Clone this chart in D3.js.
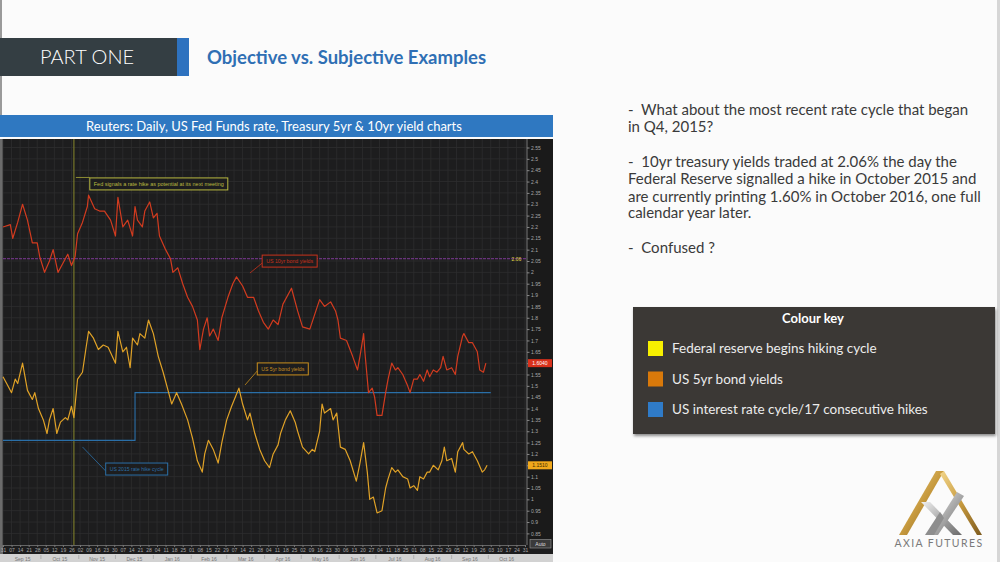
<!DOCTYPE html>
<html><head><meta charset="utf-8">
<script src="https://cdn.jsdelivr.net/npm/d3@7"></script>
<style>
html,body{margin:0;padding:0;background:#fafafa;overflow:hidden;}
svg{display:block;}
</style></head><body>
<svg id="c" width="1000" height="562"></svg>
<script>
// ---------------- DATA ----------------
const START = "2015-08-31";           // day 0 for the series below
// US 10yr Treasury yield: [days after START, yield %]
const tenYear = [
[0,2.20],[6,2.21],[8,2.15],[12,2.22],[16,2.30],[20,2.23],[24,2.13],[28,2.13],[30,2.07],[34,2.00],[38,2.05],[41,2.10],[45,2.00],[49,2.04],[53,2.08],[56,2.03],[59,2.07],[61,2.17],[65,2.22],[69,2.29],[70,2.34],[75,2.28],[79,2.27],[83,2.27],[88,2.23],[92,2.16],[94,2.33],[98,2.20],[102,2.23],[106,2.16],[108,2.29],[110,2.23],[114,2.20],[116,2.27],[120,2.31],[123,2.24],[126,2.26],[128,2.16],[133,2.10],[137,2.06],[139,2.00],[143,2.02],[147,1.95],[151,1.89],[155,1.85],[159,1.79],[161,1.66],[164,1.75],[167,1.80],[169,1.72],[172,1.75],[176,1.70],[179,1.80],[184,1.89],[188,1.95],[191,1.98],[196,1.94],[200,1.89],[205,1.89],[209,1.83],[213,1.78],[217,1.75],[221,1.79],[225,1.77],[229,1.86],[236,1.93],[241,1.83],[245,1.76],[251,1.75],[259,1.88],[263,1.85],[268,1.87],[272,1.83],[274,1.79],[276,1.71],[281,1.70],[286,1.63],[290,1.57],[292,1.63],[295,1.73],[296,1.65],[299,1.47],[302,1.49],[304,1.45],[306,1.37],[310,1.37],[313,1.47],[315,1.53],[318,1.60],[321,1.57],[323,1.58],[327,1.55],[331,1.50],[333,1.47],[336,1.53],[339,1.53],[341,1.55],[344,1.52],[347,1.57],[349,1.54],[352,1.57],[355,1.56],[358,1.58],[360,1.63],[363,1.57],[367,1.58],[370,1.55],[372,1.63],[376,1.72],[377,1.73],[381,1.69],[384,1.69],[388,1.65],[390,1.57],[393,1.56],[395,1.60]
];
// US 5yr Treasury yield: [days after START, yield %]
const fiveYear = [
[0,1.54],[3,1.51],[7,1.47],[10,1.53],[12,1.51],[16,1.60],[20,1.48],[24,1.44],[26,1.47],[29,1.40],[33,1.35],[36,1.29],[38,1.35],[41,1.40],[44,1.29],[47,1.34],[51,1.36],[53,1.35],[56,1.41],[58,1.36],[61,1.53],[65,1.56],[68,1.67],[70,1.74],[74,1.71],[78,1.66],[82,1.68],[86,1.67],[92,1.60],[94,1.74],[98,1.65],[101,1.67],[104,1.58],[106,1.71],[110,1.68],[112,1.73],[116,1.71],[119,1.79],[123,1.73],[127,1.63],[131,1.56],[135,1.48],[138,1.42],[142,1.47],[146,1.42],[151,1.35],[155,1.27],[159,1.17],[163,1.12],[165,1.20],[168,1.26],[172,1.22],[176,1.16],[179,1.25],[183,1.35],[187,1.41],[190,1.45],[193,1.49],[196,1.42],[200,1.35],[202,1.38],[206,1.29],[210,1.22],[214,1.17],[218,1.14],[221,1.20],[225,1.24],[227,1.29],[231,1.35],[235,1.39],[239,1.34],[241,1.30],[245,1.23],[250,1.20],[253,1.22],[255,1.21],[259,1.30],[261,1.42],[263,1.38],[268,1.40],[270,1.35],[273,1.38],[276,1.23],[280,1.22],[284,1.17],[289,1.08],[292,1.16],[295,1.25],[298,1.12],[300,1.00],[303,1.01],[306,0.94],[310,0.95],[313,1.05],[315,1.09],[318,1.14],[321,1.12],[323,1.13],[327,1.10],[331,1.09],[333,1.05],[336,1.06],[339,1.04],[341,1.10],[344,1.09],[347,1.12],[349,1.12],[352,1.15],[356,1.13],[359,1.17],[361,1.23],[363,1.17],[367,1.18],[370,1.12],[372,1.21],[376,1.25],[377,1.22],[381,1.20],[384,1.21],[388,1.17],[392,1.12],[394,1.13],[396,1.15]
];
// Fed funds step line (plotted on the chart's own scale)
const fedDates = ["2015-08-31","2015-12-17","2016-10-03"];
const fedRate  = [1.26, 1.47, 1.47];
const fedSignalDate = "2015-10-28";
const refLevel = 2.06;
const refLabel = "2.06";
const lastTen = "1.6040", lastFive = "1.1510";
const xDomain = ["2015-08-31","2016-10-31"];
const yTicks = [2.55,2.5,2.45,2.4,2.35,2.3,2.25,2.2,2.15,2.1,2.05,2,1.95,1.9,1.85,1.8,1.75,1.7,1.65,1.6,1.55,1.5,1.45,1.4,1.35,1.3,1.25,1.2,1.15,1.1,1.05,1,0.95,0.9,0.85];
const monthLabels = ["Sep 15","Oct 15","Nov 15","Dec 15","Jan 16","Feb 16","Mar 16","Apr 16","May 16","Jun 16","Jul 16","Aug 16","Sep 16","Oct 16"];
const monthStarts = ["2015-09-01","2015-10-01","2015-11-01","2015-12-01","2016-01-01","2016-02-01","2016-03-01","2016-04-01","2016-05-01","2016-06-01","2016-07-01","2016-08-01","2016-09-01","2016-10-01","2016-11-01"];
const bulletLines = [
 "-\u00a0\u00a0What about the most recent rate cycle that began",
 "in Q4, 2015?",
 "-\u00a0\u00a010yr treasury yields traded at 2.06% the day the",
 "Federal Reserve signalled a hike in October 2015 and",
 "are currently printing 1.60% in October 2016, one full",
 "calendar year later.",
 "-\u00a0\u00a0Confused ?"
];
const keyItems = [
 {label:"Federal reserve begins hiking cycle", color:"#f7f000"},
 {label:"US 5yr bond yields", color:"#d9790a"},
 {label:"US interest rate cycle/17 consecutive hikes", color:"#2f7bc8"}
];

// ---------------- DRAW ----------------
const svg = d3.select("#c");
const parse = d3.utcParse("%Y-%m-%d");
const t0 = parse(START);
const day = d => d3.utcDay.offset(t0, d);

const defs = svg.append("defs");
const gold = defs.append("linearGradient").attr("id","gold").attr("x1","0").attr("y1","0").attr("x2","1").attr("y2","1");
gold.append("stop").attr("offset","0").attr("stop-color","#f2d58a");
gold.append("stop").attr("offset","0.5").attr("stop-color","#c79a3e");
gold.append("stop").attr("offset","1").attr("stop-color","#7d5a1e");
const silver = defs.append("linearGradient").attr("id","silver").attr("x1","0").attr("y1","0").attr("x2","1").attr("y2","1");
silver.append("stop").attr("offset","0").attr("stop-color","#f0f0f0");
silver.append("stop").attr("offset","0.5").attr("stop-color","#a9a9a9");
silver.append("stop").attr("offset","1").attr("stop-color","#6a6a6a");
const sh = defs.append("filter").attr("id","sh").attr("x","-5%").attr("y","-5%").attr("width","110%").attr("height","120%");
sh.append("feDropShadow").attr("dx",1).attr("dy",2).attr("stdDeviation",1.5).attr("flood-color","#000").attr("flood-opacity",0.45);
defs.append("clipPath").attr("id","plotclip").append("rect").attr("x",2).attr("y",139).attr("width",525).attr("height",406);

// page background
svg.append("rect").attr("width",1000).attr("height",562).attr("fill","#fbfbfb");
svg.append("rect").attr("x",0).attr("y",0).attr("width",2).attr("height",115).attr("fill","#9a9a9a");
svg.append("rect").attr("x",997).attr("y",0).attr("width",3).attr("height",562).attr("fill","#d6d6d6");

// header
svg.append("rect").attr("x",0).attr("y",38).attr("width",177).attr("height",38).attr("fill","#343e43");
svg.append("rect").attr("x",177).attr("y",38).attr("width",12).attr("height",38).attr("fill","#2e72bf");
svg.append("text").attr("x",87).attr("y",64).attr("text-anchor","middle")
  .attr("font-family","Lato, 'Open Sans', sans-serif").attr("font-weight",300).attr("font-size",20)
  .attr("fill","#ffffff").text("PART ONE");
svg.append("text").attr("x",207).attr("y",64)
  .attr("font-family","Lato, 'Open Sans', sans-serif").attr("font-weight",700).attr("font-size",18.5)
  .attr("fill","#2f6fb4").text("Objective vs. Subjective Examples");

// chart title bar
svg.append("rect").attr("x",0).attr("y",115).attr("width",553).attr("height",22).attr("fill","#2f78c1");
svg.append("text").attr("x",274).attr("y",131).attr("text-anchor","middle")
  .attr("font-family","Lato, 'Open Sans', sans-serif").attr("font-size",13).attr("fill","#ffffff")
  .text("Reuters: Daily, US Fed Funds rate, Treasury 5yr & 10yr yield charts");

// chart panel
svg.append("rect").attr("x",0).attr("y",139).attr("width",553).attr("height",423).attr("fill","#1d1d1e");
svg.append("rect").attr("x",0).attr("y",139).attr("width",3).attr("height",423).attr("fill","#6b6b6b");
svg.append("rect").attr("x",527).attr("y",139).attr("width",26).attr("height",406).attr("fill","#1a1a1a");
svg.append("rect").attr("x",0).attr("y",554).attr("width",553).attr("height",8).attr("fill","#d2d2d2");

const x = d3.scaleUtc().domain(xDomain.map(parse)).range([3,525]);
const y = d3.scaleLinear().domain([0.85,2.55]).range([533.4,147.5]);

// grid
const grid = svg.append("g");
const mondays = d3.utcMonday.range(parse(xDomain[0]), d3.utcDay.offset(parse(xDomain[1]),1));
grid.selectAll(".vg").data(mondays).join("line")
  .attr("x1",d=>x(d)).attr("x2",d=>x(d)).attr("y1",139).attr("y2",545)
  .attr("stroke","#2d2d2f").attr("stroke-width",0.8);
grid.selectAll(".hg").data(yTicks).join("line")
  .attr("x1",3).attr("x2",527).attr("y1",d=>y(d)).attr("y2",d=>y(d))
  .attr("stroke","#2d2d2f").attr("stroke-width",0.8);

const plot = svg.append("g").attr("clip-path","url(#plotclip)");

// reference level line
plot.append("line").attr("x1",3).attr("x2",527).attr("y1",y(refLevel)).attr("y2",y(refLevel))
  .attr("stroke","#7e3a96").attr("stroke-width",1).attr("stroke-dasharray","3,1");
plot.append("text").attr("x",x(parse("2016-10-20"))).attr("y",y(refLevel)+1.8)
  .attr("font-family","Liberation Sans, sans-serif").attr("font-size",5).attr("fill","#e0d840")
  .text(refLabel);

// fed signal vertical
plot.append("line").attr("x1",x(parse(fedSignalDate))).attr("x2",x(parse(fedSignalDate)))
  .attr("y1",139).attr("y2",545).attr("stroke","#7d7d2a").attr("stroke-width",1.1);

// fed funds step
const fedData = fedDates.map((d,i)=>[parse(d),fedRate[i]]);
plot.append("path").datum(fedData)
  .attr("d", d3.line().x(d=>x(d[0])).y(d=>y(d[1])).curve(d3.curveStepAfter))
  .attr("fill","none").attr("stroke","#2a6fa8").attr("stroke-width",1.1);

const line = d3.line().x(d=>x(day(d[0]))).y(d=>y(d[1]));
plot.append("path").datum(fiveYear).attr("d",line)
  .attr("fill","none").attr("stroke","#e0a227").attr("stroke-width",1.2).attr("stroke-linejoin","round");
plot.append("path").datum(tenYear).attr("d",line)
  .attr("fill","none").attr("stroke","#d23b1f").attr("stroke-width",1.2).attr("stroke-linejoin","round");

// annotations (anchored in data space)
function annot(txt, date, val, w, color, fromDate, fromVal, fill){
  const bx = x(parse(date)), by = y(val), h = 12;
  if (fromDate){
    plot.append("line").attr("x1",x(parse(fromDate))).attr("y1",y(fromVal))
      .attr("x2",bx).attr("y2",by+h/2+2).attr("stroke",color).attr("stroke-width",0.8);
  }
  plot.append("rect").attr("x",bx).attr("y",by).attr("width",w).attr("height",h)
    .attr("fill",fill||"#1d1d1e").attr("stroke",color).attr("stroke-width",1);
  plot.append("text").attr("x",bx+w/2).attr("y",by+h/2+1.8).attr("text-anchor","middle")
    .attr("font-family","Liberation Sans, sans-serif").attr("font-size",5).attr("fill",color)
    .attr("textLength",w-8).attr("lengthAdjust","spacingAndGlyphs").text(txt);
}
// fed label leader
plot.append("line").attr("x1",x(parse(fedSignalDate))+2).attr("x2",x(parse("2015-11-10")))
  .attr("y1",y(2.418)).attr("y2",y(2.418)).attr("stroke","#a8a838").attr("stroke-width",0.8);
annot("Fed signals a rate hike as potential at its next meeting","2015-11-10",2.416,138,"#b9b940");
annot("US 10yr bond yields","2016-03-30",2.076,55,"#c8321c","2016-03-20",1.997);
annot("US 5yr bond yields","2016-03-26",1.601,51,"#c98f1e","2016-03-16",1.504);
annot("US 2015 rate hike cycle","2015-11-23",1.160,62,"#2b6fa6","2015-11-04",1.231);

// right axis (labels at 1.6 and 1.15 are covered by the last-value tags)
const tagged = [1.6, 1.15];
const yAxis = svg.append("g").attr("transform","translate(527,0)")
  .call(d3.axisRight(y).tickValues(yTicks).tickSize(2.5).tickPadding(1.5)
    .tickFormat(d=>tagged.includes(d) ? "" : String(+d.toFixed(2))));
yAxis.select(".domain").attr("stroke","#777").attr("d","M0,139V545");
yAxis.selectAll(".tick line").attr("stroke","#888");
yAxis.selectAll(".tick text").attr("fill","#a8a8a8").attr("font-size",5).attr("font-family","Liberation Sans, sans-serif");

// last value tags
function tag(val, txt, fill, tcolor){
  svg.append("rect").attr("x",528).attr("y",y(val)-4).attr("width",24).attr("height",8).attr("fill",fill);
  svg.append("text").attr("x",540).attr("y",y(val)+1.8).attr("text-anchor","middle")
    .attr("font-family","Liberation Sans, sans-serif").attr("font-size",5).attr("fill",tcolor).text(txt);
}
tag(1.6, lastTen, "#d8311c", "#ffffff");
tag(1.15, lastFive, "#f0a81c", "#3a2a00");

// Auto button
svg.append("rect").attr("x",530).attr("y",539.5).attr("width",21).attr("height",8.5).attr("fill","#3a3a3a").attr("stroke","#999").attr("stroke-width",0.6);
svg.append("text").attr("x",540.5).attr("y",545.8).attr("text-anchor","middle").attr("font-family","Liberation Sans, sans-serif")
  .attr("font-size",5).attr("fill","#ddd").text("Auto");

// bottom axis
const xAxis = svg.append("g").attr("transform","translate(0,545)")
  .call(d3.axisBottom(x).tickValues(mondays).tickSize(2).tickPadding(1).tickFormat(d3.utcFormat("%d")));
xAxis.select(".domain").attr("stroke","#666");
xAxis.selectAll(".tick line").attr("stroke","#777");
xAxis.selectAll(".tick text").attr("fill","#a8a8a8").attr("font-size",5).attr("font-family","Liberation Sans, sans-serif");

// month labels
const dom = x.domain();
const months = monthLabels.map((m,i)=>{
  const a = new Date(Math.max(parse(monthStarts[i]), dom[0]));
  const b = new Date(Math.min(parse(monthStarts[i+1]), dom[1]));
  return {m, a, b};
});
svg.selectAll(".ml").data(months).join("text")
  .attr("x",d=>(x(d.a)+x(d.b))/2).attr("y",560.5).attr("text-anchor","middle")
  .attr("font-family","Liberation Sans, sans-serif").attr("font-size",5).attr("fill","#777").text(d=>d.m);
svg.selectAll(".ms").data(months.slice(1)).join("line")
  .attr("x1",d=>x(d.a)).attr("x2",d=>x(d.a)).attr("y1",555).attr("y2",559).attr("stroke","#999").attr("stroke-width",0.6);

// right text
const baselines = [115,132,167,184,202,218,253];
svg.selectAll(".bt").data(bulletLines).join("text")
  .attr("x",628).attr("y",(d,i)=>baselines[i])
  .attr("font-family","Lato, 'Open Sans', sans-serif").attr("font-size",15).attr("fill","#3a3a3a")
  .text(d=>d);

// colour key
svg.append("rect").attr("x",633).attr("y",307).attr("width",362).attr("height",127).attr("fill","#3a3836").attr("filter","url(#sh)");
svg.append("text").attr("x",813).attr("y",323).attr("text-anchor","middle")
  .attr("font-family","Lato, 'Open Sans', sans-serif").attr("font-weight",700).attr("font-size",13).attr("fill","#ffffff").text("Colour key");
const ki = svg.selectAll(".ki").data(keyItems).join("g").attr("transform",(d,i)=>`translate(648,${341+i*30.5})`);
ki.append("rect").attr("width",15).attr("height",15).attr("fill",d=>d.color);
ki.append("text").attr("x",24).attr("y",12).attr("font-family","Lato, 'Open Sans', sans-serif").attr("font-size",13.5)
  .attr("fill","#ececec").text(d=>d.label);

// logo
const logo = svg.append("g");
logo.append("path").attr("d","M899,535 L936,471 L944,471 L907,535 Z").attr("fill","url(#gold)");
logo.append("path").attr("d","M940,474 L944,471 L982,535 L977,535 Z").attr("fill","url(#gold)");
logo.append("path").attr("d","M921,502 L930,502 L962,535 L953,535 Z").attr("fill","url(#silver)");
logo.append("path").attr("d","M957,492 L964,496 L938,535 L930,535 Z").attr("fill","url(#silver)");
logo.append("path").attr("d","M925,535 L940,512 L944,518 L934,535 Z").attr("fill","#8e8e8e");
logo.append("text").attr("x",939).attr("y",547).attr("text-anchor","middle")
  .attr("font-family","Lato, 'Open Sans', sans-serif").attr("font-size",10.5).attr("letter-spacing",1.4)
  .attr("fill","#7a7a7a").text("AXIA FUTURES");
</script>
</body></html>
